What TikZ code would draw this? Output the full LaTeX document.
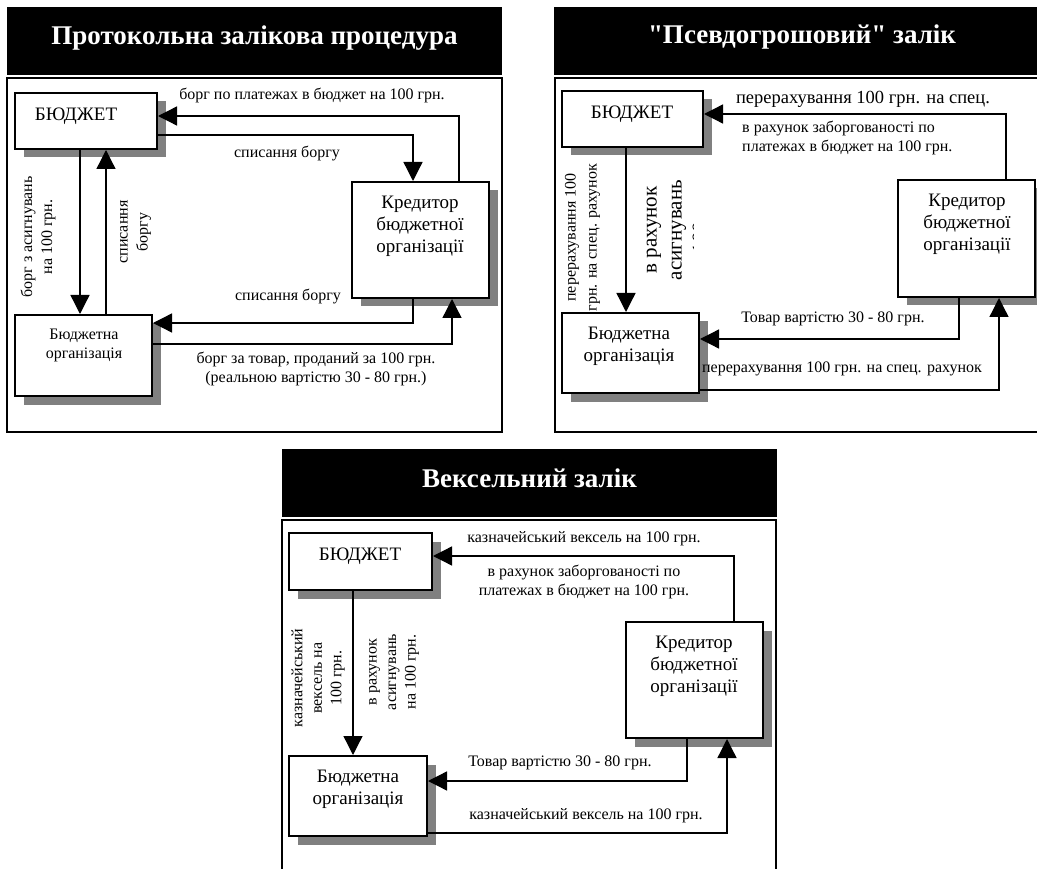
\documentclass[tikz,border=0pt]{standalone}
\usepackage{fontspec}
\setmainfont{Liberation Serif}[Ligatures=TeXOff]
\usetikzlibrary{arrows.meta,shadows}
\definecolor{ZShadow}{HTML}{808080}

\begin{document}
\begin{tikzpicture}[x=1pt,y=-1pt,
  box/.style={draw,line width=2pt,fill=white,inner sep=0,
    drop shadow={shadow xshift=8.5pt,shadow yshift=-8.5pt,fill=ZShadow,opacity=1}},
  frame/.style={draw,line width=1.3pt},
  arr/.style={line width=1.3pt,-{Triangle[length=19pt,width=19pt]}},
  lbl/.style={inner sep=0,align=center,font=\fontsize{16}{19}\selectfont},
  boxtxt/.style={inner sep=0,align=center,font=\fontsize{19}{22}\selectfont},
  title/.style={inner sep=0,text=white,font=\fontsize{27}{30}\selectfont\bfseries}]
\path[use as bounding box] (0,0) rectangle (1037,869);

% Protokolna
\fill (7,7) rectangle (502,75);
\draw[frame] (7,78) rectangle (502,432);
\node[title] (title1) at (254.5,38) {Протокольна залікова процедура};
\node[box,minimum width=142pt,minimum height=56pt] (bud1) at (86,121) {};
\node[box,minimum width=137pt,minimum height=81pt] (org1) at (83.5,355.5) {};
\node[box,minimum width=137pt,minimum height=116pt] (kred1) at (420.5,240) {};
\node[boxtxt] (bud1txt) at (76,116) {БЮДЖЕТ};
\node[boxtxt,font=\fontsize{16}{19}\selectfont] (org1txt) at (84,345) {Бюджетна\\організація};
\node[boxtxt] (kred1txt) at (420,226) {Кредитор\\бюджетної\\організації};
\draw[arr] (kred1.north -| 459,0) |- (bud1.east |- 0,116);
\draw[arr] (bud1.east |- 0,135) -| (kred1.north -| 413,0);
\draw[arr] (bud1.south -| 80,0) -- (org1.north -| 80,0);
\draw[arr] (org1.north -| 106,0) -- (bud1.south -| 106,0);
\draw[arr] (kred1.south -| 413,0) |- (org1.east |- 0,323);
\draw[arr] (org1.east |- 0,344) -| (kred1.south -| 452,0);
\node[lbl] (l1a) at (312,95) {борг по платежах в бюджет на 100 грн.};
\node[lbl] (l1b) at (287,154) {списання боргу};
\node[lbl,rotate=90,font=\fontsize{16}{20}\selectfont] (l1c) at (38,237) {борг з асигнувань\\на 100 грн.};
\node[lbl,rotate=90,font=\fontsize{16}{20}\selectfont] (l1d) at (135.5,232) {списання\\боргу};
\node[lbl] (l1e) at (288,297) {списання боргу};
\node[lbl,font=\fontsize{16}{18.5}\selectfont] (l1f) at (316,369) {борг за товар, проданий за 100 грн.\\(реальною вартістю 30 - 80 грн.)};

% Psevdogroshovyi
\fill (554,7) rectangle (1050,75);
\draw[frame] (555,78) rectangle (1050,432);
\node[title] (title2) at (802,37) {"Псевдогрошовий" залік};
\node[box,minimum width=141pt,minimum height=56pt] (bud2) at (632.5,119) {};
\node[box,minimum width=137pt,minimum height=80pt] (org2) at (630.5,353) {};
\node[box,minimum width=137pt,minimum height=117pt] (kred2) at (966.5,238.5) {};
\node[boxtxt] (bud2txt) at (632,114) {БЮДЖЕТ};
\node[boxtxt] (org2txt) at (629,346) {Бюджетна\\організація};
\node[boxtxt] (kred2txt) at (967,224) {Кредитор\\бюджетної\\організації};
\draw[arr] (kred2.north -| 1006,0) |- (bud2.east |- 0,114);
\draw[arr] (bud2.south -| 626,0) -- (org2.north -| 626,0);
\draw[arr] (kred2.south -| 959,0) |- (org2.east |- 0,339);
\draw[arr] (org2.east |- 0,390) -| (kred2.south -| 999,0);
\node[lbl,font=\fontsize{18.5}{21}\selectfont] (l2a) at (863,99) {перерахування 100 грн. на спец.};
\node[lbl,anchor=west,align=left] (l2b) at (742,137.5) {в рахунок заборгованості по\\платежах в бюджет на 100 грн.};
\node[lbl,rotate=90,font=\fontsize{16}{21}\selectfont] (l2c) at (582.5,237.5) {перерахування 100\\грн. на спец. рахунок};
\begin{scope}
\clip (640,150) rectangle (693,300);
\node[lbl,rotate=90,font=\fontsize{21}{25}\selectfont] (l2d) at (679,230) {в рахунок\\асигнувань\\на 100 грн.};
\end{scope}
\node[lbl] (l2e) at (833,319) {Товар вартістю 30 - 80 грн.};
\node[lbl] (l2f) at (842,369) {перерахування 100 грн. на спец. рахунок};

% Vekselnyi
\fill (282,449) rectangle (777,517);
\draw[frame] (282,520) rectangle (776,900);
\node[title] (title3) at (529.5,478) {Вексельний залік};
\node[box,minimum width=143pt,minimum height=57pt] (bud3) at (360.5,561.5) {};
\node[box,minimum width=138pt,minimum height=80pt] (org3) at (358,796) {};
\node[box,minimum width=137pt,minimum height=116pt] (kred3) at (694.5,680) {};
\node[boxtxt] (bud3txt) at (360,556) {БЮДЖЕТ};
\node[boxtxt] (org3txt) at (358,789) {Бюджетна\\організація};
\node[boxtxt] (kred3txt) at (694,666) {Кредитор\\бюджетної\\організації};
\draw[arr] (kred3.north -| 734,0) |- (bud3.east |- 0,556);
\draw[arr] (bud3.south -| 353,0) -- (org3.north -| 353,0);
\draw[arr] (kred3.south -| 687,0) |- (org3.east |- 0,781);
\draw[arr] (org3.east |- 0,833) -| (kred3.south -| 727,0);
\node[lbl] (l3a) at (584,539) {казначейський вексель на 100 грн.};
\node[lbl] (l3b) at (584,581.5) {в рахунок заборгованості по\\платежах в бюджет на 100 грн.};
\node[lbl,rotate=90,font=\fontsize{16}{19.5}\selectfont] (l3c) at (318,678) {казначейський\\вексель на\\100 грн.};
\node[lbl,rotate=90,font=\fontsize{16}{19.5}\selectfont] (l3d) at (394,672) {в рахунок\\асигнувань\\на 100 грн.};
\node[lbl] (l3e) at (560,763) {Товар вартістю 30 - 80 грн.};
\node[lbl] (l3f) at (586,816) {казначейський вексель на 100 грн.};
\end{tikzpicture}
\end{document}
